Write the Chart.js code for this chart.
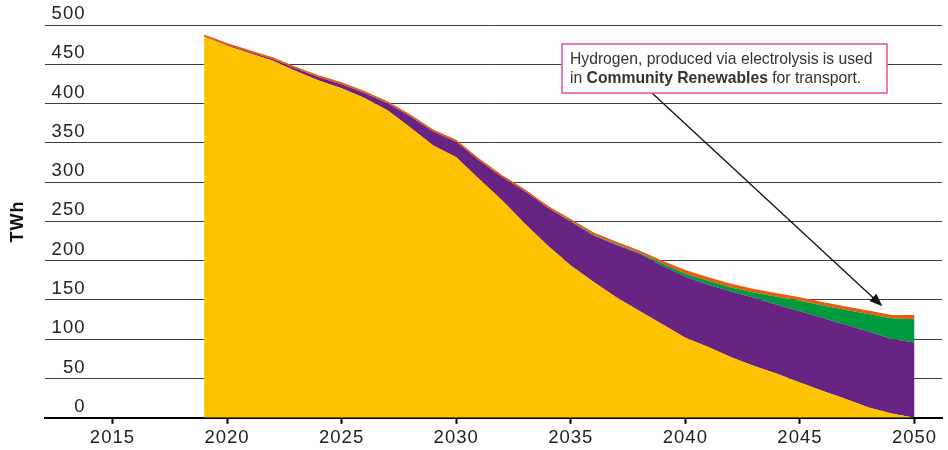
<!DOCTYPE html>
<html>
<head>
<meta charset="utf-8">
<script src="https://cdn.jsdelivr.net/npm/chart.js@4/dist/chart.umd.min.js"></script>
<style>
    html, body { margin: 0; padding: 0; background: #fff; }
    #wrap { width: 948px; height: 450px; position: relative; }
</style>
</head>
<body>
<div id="wrap"><canvas id="chart"></canvas></div>
<script>
// Energy demand (TWh), Community Renewables
const years = [2019, 2020, 2021, 2022, 2023, 2024, 2025, 2026, 2027, 2028, 2029, 2030,
    2031, 2032, 2033, 2034, 2035, 2036, 2037, 2038, 2039, 2040,
    2041, 2042, 2043, 2044, 2045, 2046, 2047, 2048, 2049, 2050];

const petrolDiesel = [485, 473.5, 464, 454.5, 441.5, 429.5, 419.5, 407, 391.5, 369.5, 346.5, 331.5,
    304, 277, 247, 219, 194, 173, 153, 136, 119, 102,
    90, 77, 66, 56, 45, 34, 24, 13, 5.5, 0];
const electricity = [0.5, 1, 1.5, 2, 3, 4, 5, 6.5, 9, 14, 18, 20,
    23.5, 29.5, 41.5, 48.5, 56, 59, 67, 73, 74.5, 77.5,
    79.5, 83.7, 86.7, 87.8, 90.6, 93, 94.6, 96.7, 94.9, 96];
const hydrogen = [0, 0, 0, 0, 0, 0, 0, 0, 0, 0, 0, 0,
    0, 0, 0, 0, 0.5, 1, 1, 1, 3, 4,
    5, 5.3, 6.8, 10.3, 13.4, 16, 18.7, 22.3, 26.3, 29.4];
const gasOther = [2.5, 2.5, 2.5, 2.5, 2.5, 2.5, 2.5, 2.5, 2.5, 2.5, 2.5, 2.5,
    2.5, 2.5, 2.5, 2.5, 2.5, 3, 3, 3, 3.5, 4.5,
    4.5, 4.5, 4.5, 4.5, 4.5, 4.5, 4.5, 4.5, 4.3, 5.6];

const xTicks = [2015, 2020, 2025, 2030, 2035, 2040, 2045, 2050];
const yTicks = [0, 50, 100, 150, 200, 250, 300, 350, 400, 450, 500];

// Callout text and where its arrow points (year, TWh)
const calloutLine1 = 'Hydrogen, produced via electrolysis is used';
const calloutLine2 = ['in ', 'Community Renewables', ' for transport.'];
const calloutTarget = { x: 2048.6, y: 142 };

const COLORS = {
    petrolDiesel: '#FDC300',
    electricity: '#682482',
    hydrogen: '#009A3E',
    gasOther: '#EA5B0C',
    callout: '#E2509A'
};

const FONT = '"Liberation Sans", Arial, sans-serif';

function series(label, values, color, fill) {
    return {
        label: label,
        data: years.map((yr, i) => ({ x: yr, y: values[i] })),
        backgroundColor: color,
        borderWidth: 0,
        pointRadius: 0,
        tension: 0,
        fill: fill
    };
}

// Espaçamento de letras mais aberto, como no original
const spacingPlugin = {
    id: 'spacing',
    beforeDraw(chart) {
        chart.ctx.letterSpacing = '1px';
    }
};

// Desenha a caixa de texto com a seta
const calloutPlugin = {
    id: 'callout',
    afterDraw(chart) {
        const ctx = chart.ctx;
        const xs = chart.scales.x;
        const ys = chart.scales.y;
        const left = 562, top = 44, w = 325, h = 49;

        ctx.save();
        ctx.letterSpacing = '0px';
        // seta
        const sx = 652, sy = top + h;
        const tx = xs.getPixelForValue(calloutTarget.x);
        const ty = ys.getPixelForValue(calloutTarget.y);
        const ang = Math.atan2(ty - sy, tx - sx);
        ctx.strokeStyle = '#111';
        ctx.lineWidth = 1.3;
        ctx.beginPath();
        ctx.moveTo(sx, sy);
        ctx.lineTo(tx - 10 * Math.cos(ang), ty - 10 * Math.sin(ang));
        ctx.stroke();
        ctx.fillStyle = '#111';
        ctx.beginPath();
        ctx.moveTo(tx, ty);
        ctx.lineTo(tx - 13 * Math.cos(ang) + 5 * Math.sin(ang), ty - 13 * Math.sin(ang) - 5 * Math.cos(ang));
        ctx.lineTo(tx - 13 * Math.cos(ang) - 5 * Math.sin(ang), ty - 13 * Math.sin(ang) + 5 * Math.cos(ang));
        ctx.closePath();
        ctx.fill();

        // caixa
        ctx.fillStyle = '#fff';
        ctx.fillRect(left, top, w, h);
        ctx.strokeStyle = COLORS.callout;
        ctx.lineWidth = 1.5;
        ctx.strokeRect(left, top, w, h);

        // texto
        ctx.fillStyle = '#333';
        ctx.textBaseline = 'middle';
        ctx.textAlign = 'left';
        ctx.font = '15.7px ' + FONT;
        ctx.fillText(calloutLine1, left + 8, top + 16);
        let cx = left + 8;
        calloutLine2.forEach((part, i) => {
            ctx.font = (i === 1 ? 'bold ' : '') + '15.7px ' + FONT;
            ctx.fillText(part, cx, top + 35);
            cx += ctx.measureText(part).width;
        });
        ctx.restore();
    }
};

const chart = new Chart(document.getElementById('chart'), {
    type: 'line',
    data: {
        datasets: [
            series('Petrol and diesel', petrolDiesel, COLORS.petrolDiesel, 'origin'),
            series('Electricity', electricity, COLORS.electricity, '-1'),
            series('Hydrogen', hydrogen, COLORS.hydrogen, '-1'),
            series('Gas and other', gasOther, COLORS.gasOther, '-1')
        ]
    },
    options: {
        responsive: true,
        maintainAspectRatio: false,
        animation: false,
        layout: { padding: { top: 25, right: 6, bottom: -2, left: 0 } },
        plugins: {
            legend: { display: false },
            tooltip: { enabled: false }
        },
        scales: {
            x: {
                type: 'linear',
                min: 2012.04,
                max: 2051.2,
                afterBuildTicks: (scale) => { scale.ticks = xTicks.map(v => ({ value: v })); },
                ticks: {
                    callback: (v) => String(v),
                    color: '#222',
                    font: { family: FONT, size: 18.5 },
                    padding: 3,
                    maxRotation: 0
                },
                grid: {
                    drawOnChartArea: false,
                    drawTicks: true,
                    tickLength: 6,
                    tickWidth: 2,
                    tickColor: '#000'
                },
                border: { display: true, color: '#000', width: 2 }
            },
            y: {
                stacked: true,
                min: 0,
                max: 500,
                afterBuildTicks: (scale) => { scale.ticks = yTicks.map(v => ({ value: v })); },
                ticks: {
                    mirror: true,
                    crossAlign: 'far',
                    padding: 10,
                    labelOffset: -11,
                    color: '#222',
                    font: { family: FONT, size: 18.5 }
                },
                grid: {
                    drawTicks: false,
                    color: '#3c3c3c',
                    lineWidth: 1
                },
                border: { display: false },
                title: {
                    display: true,
                    text: 'TWh',
                    color: '#111',
                    font: { family: FONT, size: 18, weight: 'bold' },
                    padding: { top: 7, bottom: -4 }
                }
            }
        }
    },
    plugins: [spacingPlugin, calloutPlugin]
});
</script>
</body>
</html>
